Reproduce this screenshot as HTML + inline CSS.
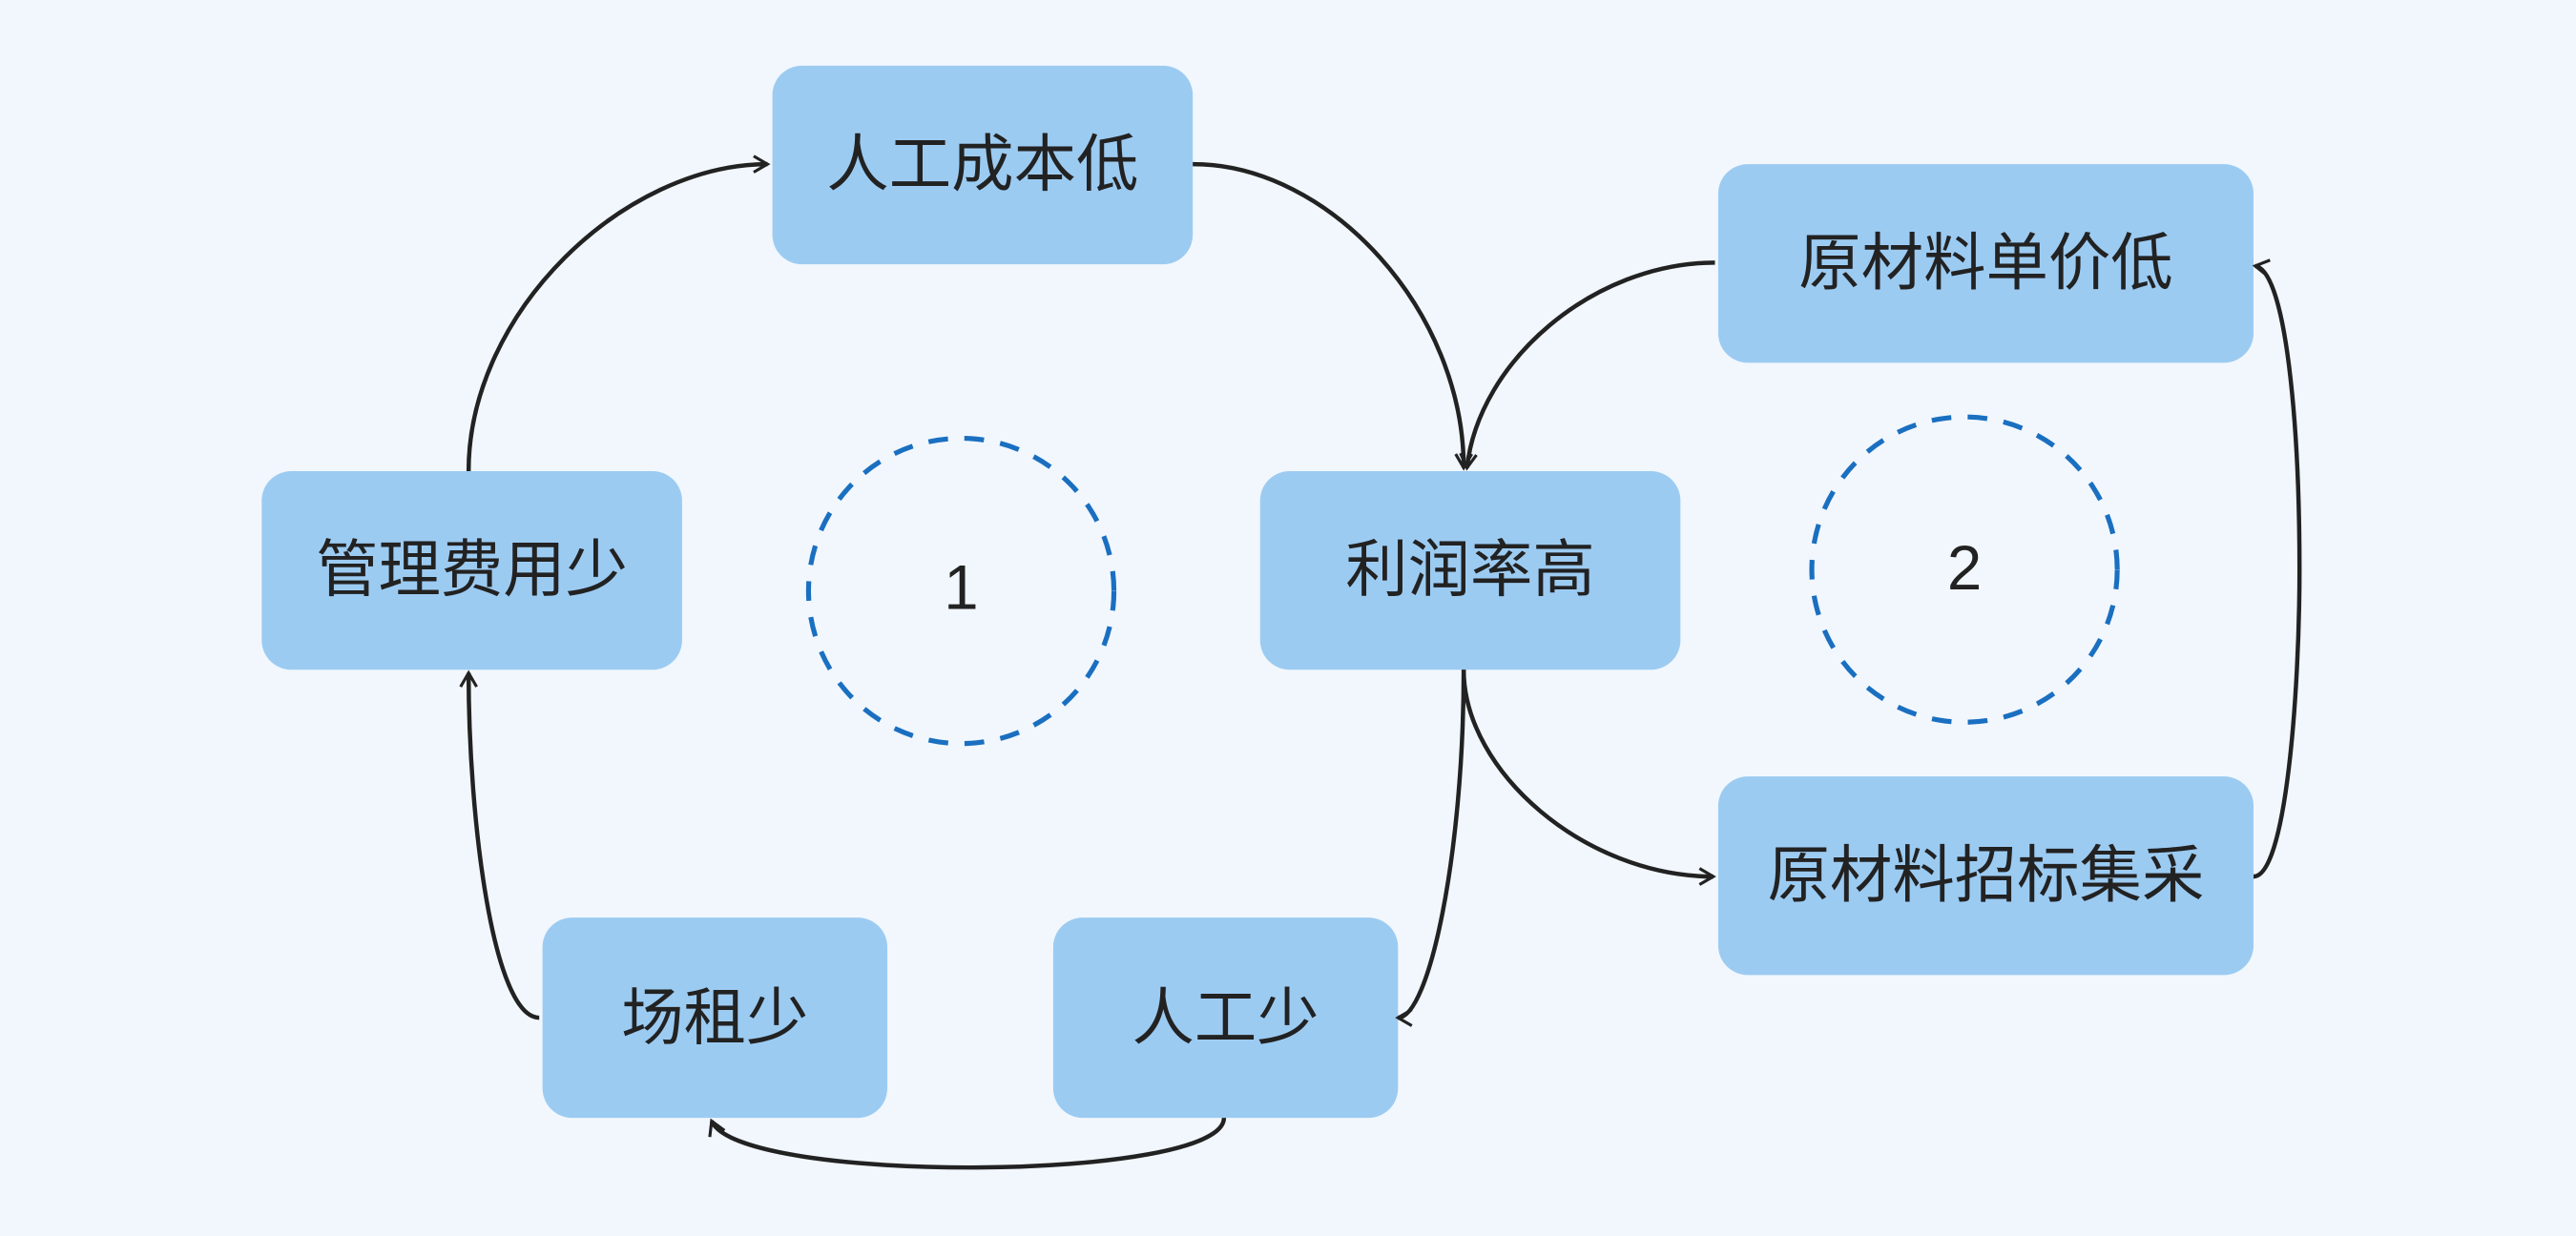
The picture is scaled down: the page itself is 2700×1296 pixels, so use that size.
<!DOCTYPE html>
<html><head><meta charset="utf-8"><style>
html,body{margin:0;padding:0;background:#f1f7fd;}
svg{display:block;}
text{font-family:"Liberation Sans","Noto Sans CJK SC",sans-serif;fill:#222;font-size:38px;text-anchor:middle;dominant-baseline:central;}
</style></head><body>
<svg width="2700" height="1296" viewBox="0 0 1568 753" xmlns="http://www.w3.org/2000/svg">
<defs>
<marker id="a" viewBox="0 0 20 20" refX="16" refY="10" markerWidth="14" markerHeight="14" markerUnits="userSpaceOnUse" orient="auto">
<path d="M4,3 L16,10 L4,17" fill="none" stroke="#222" stroke-width="2.6"/>
</marker>
</defs>
<rect width="1568" height="753" fill="#f1f7fd"/>
<g fill="#9ccbf2">
<rect x="470" y="40" width="256" height="121" rx="18"/>
<rect x="1046" y="100" width="326" height="121" rx="18"/>
<rect x="159" y="287" width="256" height="121" rx="18"/>
<rect x="767" y="287" width="256" height="121" rx="18"/>
<rect x="1046" y="473" width="326" height="121" rx="18"/>
<rect x="330" y="559" width="210" height="122" rx="18"/>
<rect x="641" y="559" width="210" height="122" rx="18"/>
</g>
<g fill="none" stroke="#1a6fc0" stroke-width="3" stroke-dasharray="12,10">
<circle cx="585" cy="360" r="93"/>
<circle cx="1196" cy="347" r="93"/>
</g>
<g fill="none" stroke="#222" stroke-width="2.6" marker-end="url(#a)">
<path d="M285,287 C285,190 380,100 467,100"/>
<path d="M726,100 C810,100 891,190 891,285"/>
<path d="M1044,160 C970,160 900,220 893,285"/>
<path d="M891,408 C891,470 965,534 1043,534"/>
<path d="M891,408 C891,520 870,620 851,620"/>
<path d="M1372,534 C1392,534 1400,420 1400,347 C1400,260 1392,165 1373,162"/>
<path d="M745,681 C745,720 450,722 433,683"/>
<path d="M328,620 C300,620 285,500 285,410"/>
</g>
<text x="598" y="100">人工成本低</text>
<text x="1209" y="160">原材料单价低</text>
<text x="287" y="347">管理费用少</text>
<text x="895" y="347">利润率高</text>
<text x="1209" y="533">原材料招标集采</text>
<text x="435" y="620">场租少</text>
<text x="746" y="620">人工少</text>
<text x="585" y="358">1</text>
<text x="1196" y="346">2</text>
</svg>
</body></html>
